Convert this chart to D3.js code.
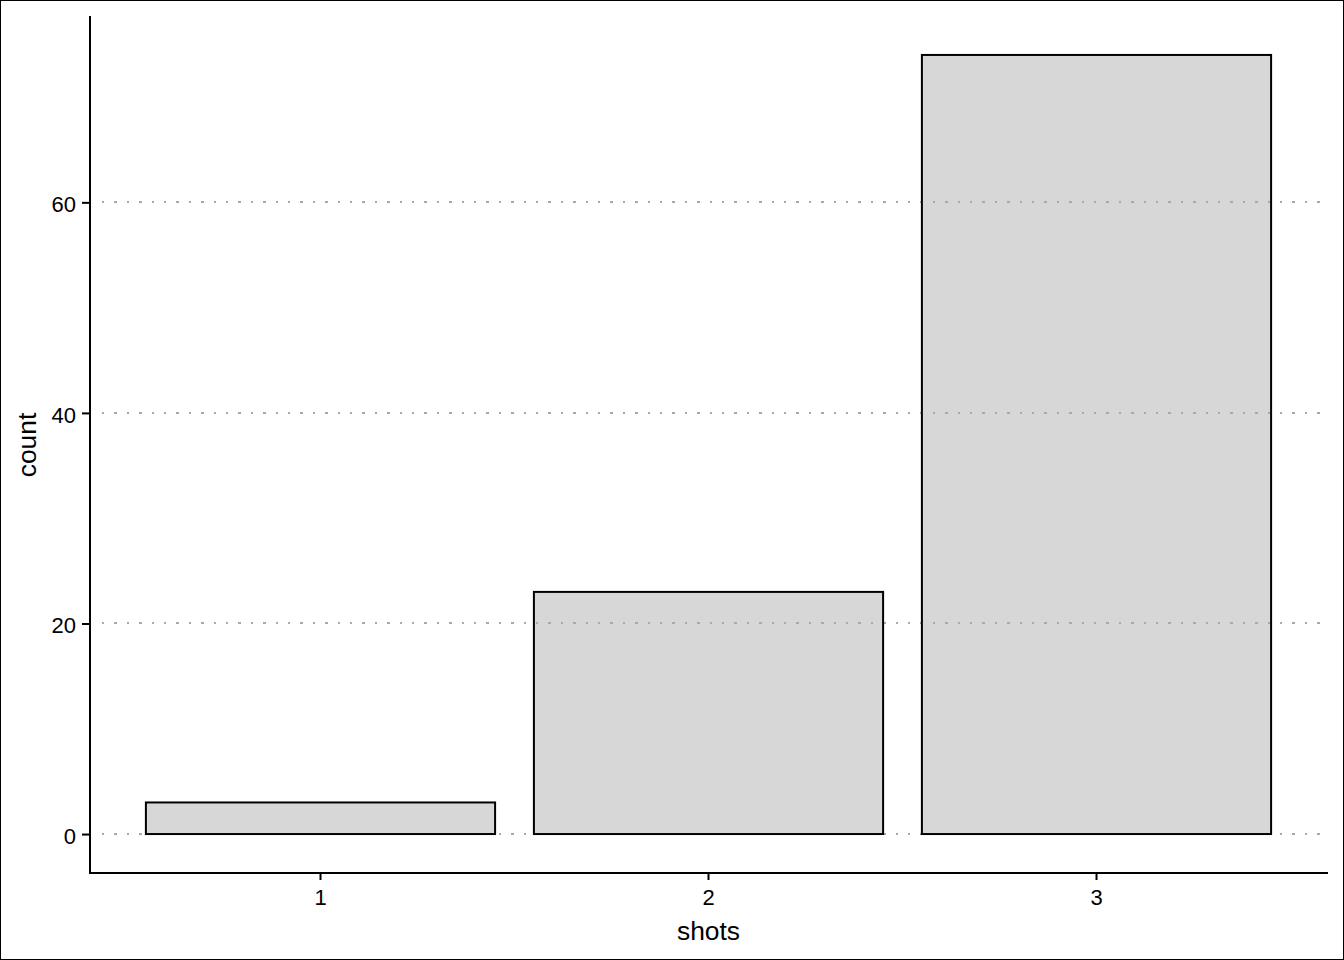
<!DOCTYPE html>
<html><head><meta charset="utf-8">
<script src="https://cdn.jsdelivr.net/npm/d3@7"></script>
<style>
html,body{margin:0;padding:0;background:#fff;}
svg{display:block;}
text{font-family:"Liberation Sans",Arial,Helvetica,sans-serif;fill:#000;}
</style></head>
<body>
<svg id="chart" width="1344" height="960"></svg>
<script>
const categories = ["1", "2", "3"];
const counts = [3, 23, 74];
const yTicks = [0, 20, 40, 60];
const xTitle = "shots";
const yTitle = "count";

const W = 1344, H = 960;
const svg = d3.select("#chart");
svg.append("rect").attr("x",0.5).attr("y",0.5).attr("width",W-1).attr("height",H-1)
  .attr("fill","#fff").attr("stroke","#000").attr("stroke-width",1);

const pLeft = 87.7, pRight = 1329.3, pTop = 16, pBottom = 873;
const step = (pRight - pLeft) / 3.2;
const x = d3.scaleBand().domain(categories)
  .range([pLeft + 0.1*step, pRight - 0.1*step])
  .paddingInner(0.1).paddingOuter(0.05);
const yMax = d3.max(counts);
const y = d3.scaleLinear().domain([-0.05*yMax, yMax*1.05]).range([pBottom, pTop]);

const g = svg.append("g");
// bar fills
g.selectAll("rect.barfill").data(categories).join("rect").attr("class","barfill")
  .attr("x", d => x(d)).attr("width", x.bandwidth())
  .attr("y", (d,i) => y(counts[i])).attr("height", (d,i) => y(0) - y(counts[i]))
  .attr("fill","#d7d7d7");
// gridlines
g.selectAll("line.grid").data(yTicks).join("line").attr("class","grid")
  .attr("x1", 102).attr("x2", pRight).attr("y1", d => Math.round(y(d))).attr("y2", d => Math.round(y(d)))
  .attr("stroke","#a9a9a9").attr("stroke-width",2).attr("stroke-dasharray","2.4,10")
  .attr("shape-rendering","crispEdges");
// bar outlines
g.selectAll("rect.barline").data(categories).join("rect").attr("class","barline")
  .attr("x", d => x(d)).attr("width", x.bandwidth())
  .attr("y", (d,i) => y(counts[i])).attr("height", (d,i) => y(0) - y(counts[i]))
  .attr("fill","none").attr("stroke","#000").attr("stroke-width",2);

// axes
const axX = 90;
const yAxis = d3.axisLeft(y).tickValues(yTicks).tickSize(8).tickPadding(6);
const ya = svg.append("g").attr("transform",`translate(${axX},0)`).call(yAxis);
ya.select(".domain").remove();
ya.append("line").attr("x1",0).attr("x2",0).attr("y1",pTop).attr("y2",pBottom+1).attr("stroke","#000").attr("stroke-width",2);
ya.selectAll(".tick line").attr("stroke","#000").attr("stroke-width",2);
ya.selectAll(".tick text").attr("font-size",22).attr("dy","0.42em").attr("fill","#000").attr("font-family","Liberation Sans, Arial, sans-serif");

const xAxis = d3.axisBottom(x).tickSize(7).tickPadding(9);
const xa = svg.append("g").attr("transform",`translate(0,${pBottom})`).call(xAxis);
xa.select(".domain").remove();
xa.append("line").attr("x1",axX-1).attr("x2",1328).attr("y1",0).attr("y2",0).attr("stroke","#000").attr("stroke-width",2);
xa.selectAll(".tick line").attr("stroke","#000").attr("stroke-width",2);
xa.selectAll(".tick text").attr("font-size",22).attr("fill","#000").attr("font-family","Liberation Sans, Arial, sans-serif");

svg.append("text").attr("x",708.5).attr("y",940).attr("text-anchor","middle")
  .attr("font-size",26.4).text(xTitle);
svg.append("text").attr("transform",`translate(36,445) rotate(-90)`).attr("text-anchor","middle")
  .attr("font-size",26.4).text(yTitle);
</script>
</body></html>
